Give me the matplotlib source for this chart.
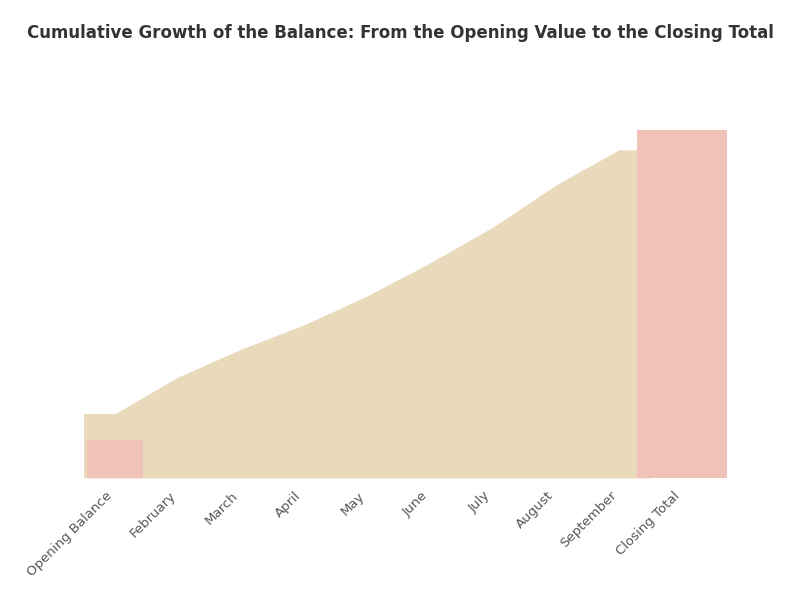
import numpy as np
import matplotlib
matplotlib.use("Agg")
import matplotlib.pyplot as plt

# ---- data ----
categories = ["Opening Balance", "February", "March", "April", "May",
              "June", "July", "August", "September", "Closing Total"]
running_total = [18.5, 29.0, 37.0, 44.0, 52.3, 61.8, 72.1, 84.2, 94.3]
start_value = 11
end_value = 100
title_text = "Cumulative Growth of the Balance: From the Opening Value to the Closing Total"

# ---- style ----
beige = "#E8DABB"
pink = "#F0C2B8"

fig = plt.figure(figsize=(8, 5.92), dpi=100)
ax = fig.add_axes([0.065, 0.1926, 0.875, 0.6385])

idx = np.arange(len(running_total))
x_area = np.r_[idx[0] - 0.5, idx, idx[-1] + 0.5]
y_area = np.r_[running_total[0], running_total, running_total[-1]]
ax.fill_between(x_area, 0, y_area, color=beige, linewidth=0, zorder=1)

ax.bar([0], [start_value], width=0.9, color=pink, zorder=2)
ax.bar([len(categories) - 1], [end_value], width=1.43, color=pink, zorder=2)

ax.set_xlim(-1.0, 10.11)
ax.set_ylim(0, 108.6)
ax.set_xticks(np.arange(len(categories)))
ax.set_xticklabels(categories, rotation=45, ha="right", fontsize=9.5, color="#555555")
ax.tick_params(axis="x", length=0, pad=8)
ax.set_yticks([])
for s in ax.spines.values():
    s.set_visible(False)

fig.text(0.5, 0.945, title_text, ha="center", va="center", fontsize=12,
         fontweight="bold", color="#333333")

fig.savefig("out.png", dpi=100, facecolor="white")
